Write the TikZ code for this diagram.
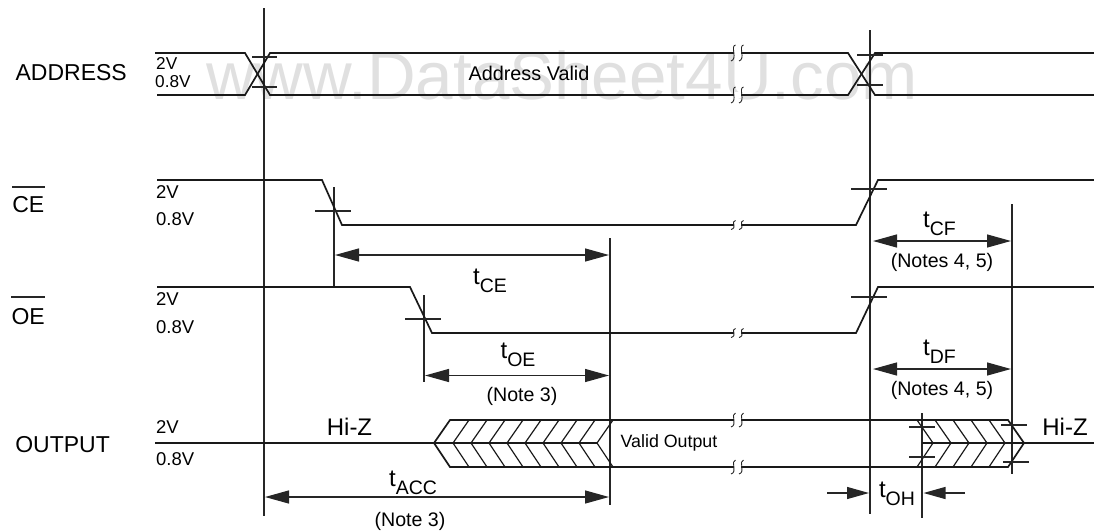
\documentclass[tikz,border=0pt]{standalone}
\usepackage{fontspec}
\setmainfont{Liberation Sans}
\usetikzlibrary{arrows.meta}
\newcommand{\fsz}[1]{\fontsize{#1}{#1}\selectfont}
\newcommand{\tlab}[1]{\fsz{24}t\raisebox{-8pt}{\fsz{19.5}#1}}
\tikzset{
  wave/.style={line width=1.7pt,black!90,line join=miter},
  tick/.style={line width=1.3pt,black!85},
  vert/.style={line width=1.5pt,black!85},
  chev/.style={line width=1.2pt,black!90},
  dim/.style={line width=1.3pt,black!85,{Triangle[length=24pt,width=13pt]}-{Triangle[length=24pt,width=13pt]}},
  dimr/.style={line width=1.3pt,black!85,-{Triangle[length=22pt,width=12pt]}},
  brk/.style={line width=0.9pt,black!85},
  sig/.style={font=\fsz{23},inner sep=0pt,anchor=base east},
  lvl/.style={font=\fsz{18.5},inner sep=0pt,anchor=west},
  lvls/.style={font=\fsz{17.2},inner sep=0pt,anchor=west},
  timing/.style={inner sep=0pt,anchor=base},
  note/.style={font=\fsz{19.6},inner sep=0pt},
}
\newcommand{\brkmark}[2]{%
  \foreach \bx in {733,741}{
    \draw[brk] (\bx+2.5,#1-#2) .. controls (\bx-3,#1-#2+1) and (\bx+5,#1+#2-2) .. (\bx-2,#1+#2);
  }
}
\begin{document}
\begin{tikzpicture}[x=1pt,y=-1pt]
\useasboundingbox (0,0) rectangle (1094,531);
% watermark
\node[inner sep=0pt,text=black!12,font=\fsz{67.4},anchor=base] (wm) at (562,99) {www.DataSheet4U.com};
% labels
\node[sig] (lA) at (127,80) {ADDRESS};
\node[sig] (lC) at (44.5,212) {CE};
\node[sig] (lO) at (45,324) {OE};
\node[sig] (lU) at (110,452) {OUTPUT};
\draw[tick] (lC.west |- 0,187) -- (lC.east |- 0,187);
\draw[tick] (lO.west |- 0,297) -- (lO.east |- 0,297);
\node[lvls] (a2) at (156,63) {2V};
\node[lvls] (a0) at (155,82) {0.8V};
\node[lvl] (c2) at (156,192) {2V};
\node[lvl] (c0) at (156,219) {0.8V};
\node[lvl] (o2) at (156,299) {2V};
\node[lvl] (o0) at (156,327) {0.8V};
\node[lvl] (u2) at (156,427) {2V};
\node[lvl] (u0) at (156,459) {0.8V};
\node[inner sep=0pt,font=\fsz{19.8}] (av) at (529,73) {Address Valid};
\node[inner sep=0pt,font=\fsz{17.8}] (vo) at (669,443) {Valid Output};
\node[inner sep=0pt,font=\fsz{24}] (hz1) at (349.5,427) {Hi-Z};
\node[inner sep=0pt,font=\fsz{24}] (hz2) at (1065,427) {Hi-Z};
\node[timing] (tce) at (490,284) {\tlab{CE}};
\node[timing] (toe) at (518,358) {\tlab{OE}};
\node[timing] (tcf) at (939.5,227) {\tlab{CF}};
\node[timing] (tdf) at (939.5,355) {\tlab{DF}};
\node[timing] (tacc) at (413,486) {\tlab{ACC}};
\node[timing] (toh) at (897,497) {\tlab{OH}};
\node[note] (n1) at (522,396) {(Note 3)};
\node[note] (n2) at (410,521) {(Note 3)};
\node[note] (n3) at (942,262) {(Notes 4, 5)};
\node[note] (n4) at (942,390) {(Notes 4, 5)};
% verticals
\draw[vert] (264,8) -- (264,516);
\draw[vert] (870,30) -- (870,514);
\draw[vert] (334,187) -- (334,287);
\draw[vert] (424,295) -- (424,382);
\draw[vert] (610,238) -- (610,505);
\draw[vert] (1012,204) -- (1012,474);
\draw[vert] (922,413) -- (922,518);
% address
\draw[wave] (155,53) -- (245,53) -- (270,95) -- (848,95) -- (875,53) -- (1094,53);
\draw[wave] (157,95) -- (245,95) -- (270,53) -- (848,53) -- (875,95) -- (1094,95);
% CE, OE
\draw[wave] (157,180) -- (322,180) -- (342,225) -- (856,225) -- (878,180) -- (1094,180);
\draw[wave] (157,287) -- (410,287) -- (432,333) -- (856,333) -- (878,287) -- (1094,287);
% output
\draw[wave] (155,443) -- (434,443) -- (450,420) -- (1008,420) -- (1024,443) -- (1094,443);
\draw[wave] (434,443) -- (450,467) -- (1008,467) -- (1024,443);
\draw[line width=2.4pt,black!90] (755,467) -- (800,467);
\draw[chev] (434,443) -- (597,443);
\foreach \a in {453,471,489,507,525,543,561,579,597}{
  \draw[chev] (\a+16,420) -- (\a,443) -- (\a+16,467);
}
\draw[chev] (922,443) -- (1024,443);
\foreach \a in {933,951,969,987,1005}{
  \draw[chev] (\a-16,420) -- (\a,443) -- (\a-16,467);
}
% breaks
\foreach \y/\h in {53/8,95/8,225/4.5,333/4.5,420/7,467/7}{
  \fill[white] (733.5,\y-3) rectangle (741,\y+3);
  \brkmark{\y}{\h}
}
% threshold ticks
\draw[tick] (252,57) -- (277,57);
\draw[tick] (252,87) -- (277,87);
\draw[tick] (857,55) -- (883,55);
\draw[tick] (857,85) -- (883,85);
\draw[tick] (315,211) -- (351,211);
\draw[tick] (405,319) -- (441,319);
\draw[tick] (851,189) -- (887,189);
\draw[tick] (851,297) -- (887,297);
\draw[tick] (909,427) -- (935,427);
\draw[tick] (909,457) -- (935,457);
\draw[tick] (1001,425) -- (1027,425);
\draw[tick] (1003,462) -- (1029,462);
% dimension arrows
\coordinate (ce1) at (335,255); \coordinate (ce2) at (609,255);
\coordinate (oe1) at (425,375.5); \coordinate (oe2) at (609,375.5);
\coordinate (ac1) at (265,497); \coordinate (ac2) at (609,497);
\coordinate (cf1) at (873,241); \coordinate (cf2) at (1011,241);
\coordinate (df1) at (873,369); \coordinate (df2) at (1011,369);
\coordinate (oh1) at (827,493); \coordinate (oh2) at (869,493);
\coordinate (oh3) at (965,493); \coordinate (oh4) at (923.5,493);
\draw[dim] (ce1) -- (ce2);
\draw[dim] (oe1) -- (oe2);
\draw[dim] (ac1) -- (ac2);
\draw[dim] (cf1) -- (cf2);
\draw[dim] (df1) -- (df2);
\draw[dimr] (oh1) -- (oh2);
\draw[dimr] (oh3) -- (oh4);
\end{tikzpicture}
\end{document}
